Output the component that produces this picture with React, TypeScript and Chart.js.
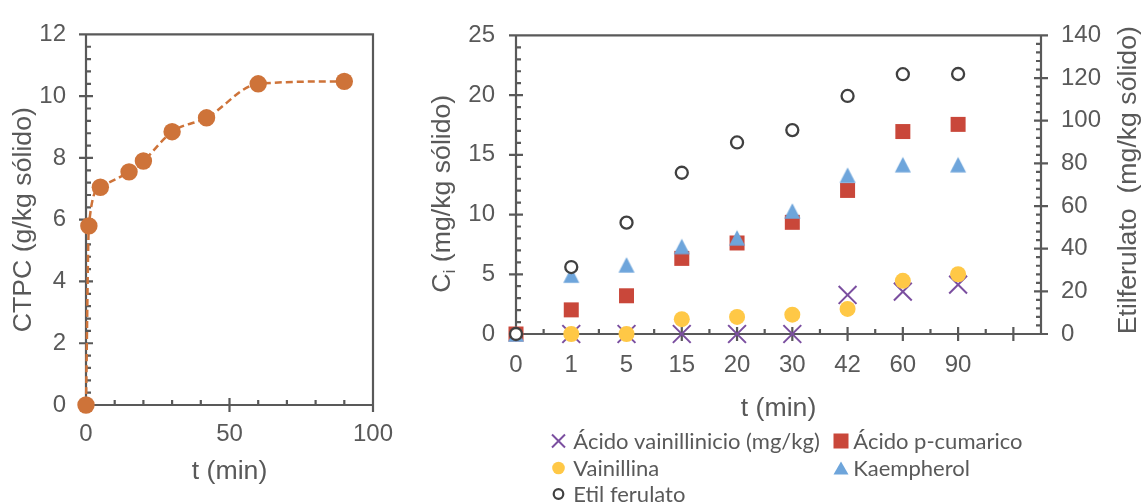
import React, { useEffect, useRef } from 'react';
import { Chart, registerables } from 'chart.js';

Chart.register(...registerables);

// ---------------- Data ----------------
const ctpcTime = [0, 1, 5, 15, 20, 30, 42, 60, 90];
const ctpcValues = [0, 5.8, 7.05, 7.55, 7.9, 8.85, 9.3, 10.4, 10.48];
const ctpcXTicks = [0, 50, 100];
const ctpcYTicks = [0, 2, 4, 6, 8, 10, 12];

const timeCategories = ['0', '1', '5', '15', '20', '30', '42', '60', '90'];
const acidoVainillinico = [null, 0, 0, 0, 0, 0, 3.27, 3.55, 4.13];
const acidoPCumarico = [0, 2.02, 3.2, 6.33, 7.62, 9.35, 12.02, 16.95, 17.55];
const vainillina = [null, 0, 0, 1.24, 1.43, 1.62, 2.1, 4.45, 5.0];
const kaempherol = [0, 4.93, 5.79, 7.33, 8.05, 10.3, 13.3, 14.18, 14.18];
const etilFerulato = [0, 31.4, 52.2, 75.6, 89.8, 95.6, 111.6, 121.8, 121.9];
const ciTicks = [0, 5, 10, 15, 20, 25];
const etilTicks = [0, 20, 40, 60, 80, 100, 120, 140];

const seriesNames = [
  'Ácido vainillinicio (mg/kg)',
  'Ácido p-cumarico',
  'Vainillina',
  'Kaempherol',
  'Etil ferulato',
];

// ---------------- Styles ----------------
const AXIS_COLOR = '#595959';
const TEXT_COLOR = '#595959';
const SANS = "'Liberation Sans', Arial, sans-serif";
const TICK_FONT = { family: SANS, size: 24 };
const TITLE_FONT = { family: SANS, size: 26.67 };
const LEGEND_FONT = "22px Lato, 'Open Sans', sans-serif";

const C_ORANGE = '#CE7339';
const C_PURPLE = '#7B4FA0';
const C_RED = '#C9473A';
const C_YELLOW = '#FFC846';
const C_BLUE = '#6EA5DB';
const C_DARK = '#404040';

type Spec = {
  scaleId: string;
  min: number;
  max: number;
  majorStep: number;
  minorStep: number;
  side: 'left' | 'right' | 'bottom';
};

function axisPlugin(specs: Spec[]) {
  return {
    id: 'axisFrame',
    beforeDatasetsDraw(chart: any) {
      const { ctx, chartArea: a } = chart;
      ctx.save();
      ctx.strokeStyle = AXIS_COLOR;
      ctx.lineWidth = 2.2;
      ctx.beginPath();
      ctx.moveTo(a.left, a.top);
      ctx.lineTo(a.right, a.top);
      ctx.lineTo(a.right, a.bottom);
      ctx.lineTo(a.left, a.bottom);
      ctx.closePath();
      for (const s of specs) {
        const scale = chart.scales[s.scaleId];
        const n = Math.round((s.max - s.min) / s.minorStep);
        const ratio = Math.round(s.majorStep / s.minorStep);
        for (let k = 0; k <= n; k++) {
          const v = s.min + k * s.minorStep;
          const p = scale.getPixelForValue(v);
          const major = k % ratio === 0;
          const out = major ? 7 : 0;
          const inn = major ? 7 : 5;
          if (s.side === 'bottom') {
            ctx.moveTo(p, a.bottom + out);
            ctx.lineTo(p, a.bottom - inn);
          } else if (s.side === 'left') {
            ctx.moveTo(a.left - out, p);
            ctx.lineTo(a.left + inn, p);
          } else {
            ctx.moveTo(a.right + out, p);
            ctx.lineTo(a.right - inn, p);
          }
        }
      }
      ctx.stroke();
      ctx.restore();
    },
  };
}

const rightTitlesPlugin = {
  id: 'rightTitles',
  afterDraw(chart: any) {
    const { ctx, chartArea: a } = chart;
    const midY = (a.top + a.bottom) / 2;
    ctx.save();
    ctx.fillStyle = TEXT_COLOR;
    ctx.textBaseline = 'middle';
    ctx.textAlign = 'left';
    // left title: C_i (mg/kg sólido)
    const big = `${TITLE_FONT.size}px ${SANS}`;
    const small = `${TITLE_FONT.size * 0.65}px ${SANS}`;
    ctx.font = big;
    const w1 = ctx.measureText('C').width;
    const w3 = ctx.measureText(' (mg/kg sólido)').width;
    ctx.font = small;
    const w2 = ctx.measureText('i').width;
    const total = w1 + w2 + w3;
    ctx.save();
    ctx.translate(a.left - 73, midY + 9);
    ctx.rotate(-Math.PI / 2);
    let x = -total / 2;
    ctx.font = big;
    ctx.fillText('C', x, 0);
    x += w1;
    ctx.font = small;
    ctx.fillText('i', x, 7);
    x += w2;
    ctx.font = big;
    ctx.fillText(' (mg/kg sólido)', x, 0);
    ctx.restore();
    // right title
    ctx.save();
    ctx.translate(a.right + 88, midY - 4.5);
    ctx.rotate(-Math.PI / 2);
    ctx.font = big;
    ctx.textAlign = 'center';
    ctx.fillText('Etilferulato  (mg/kg sólido)', 0, 0);
    ctx.restore();
    ctx.restore();
  },
};

function drawMarker(ctx: CanvasRenderingContext2D, kind: string, x: number, y: number) {
  ctx.save();
  ctx.beginPath();
  if (kind === 'x') {
    ctx.strokeStyle = C_PURPLE;
    ctx.lineWidth = 2;
    ctx.moveTo(x - 6.5, y - 6.5);
    ctx.lineTo(x + 6.5, y + 6.5);
    ctx.moveTo(x + 6.5, y - 6.5);
    ctx.lineTo(x - 6.5, y + 6.5);
    ctx.stroke();
  } else if (kind === 'square') {
    ctx.fillStyle = C_RED;
    ctx.fillRect(x - 7.5, y - 7.5, 15, 15);
  } else if (kind === 'circle') {
    ctx.fillStyle = C_YELLOW;
    ctx.arc(x, y, 6.3, 0, Math.PI * 2);
    ctx.fill();
  } else if (kind === 'triangle') {
    ctx.fillStyle = C_BLUE;
    ctx.moveTo(x, y - 6.5);
    ctx.lineTo(x + 7.5, y + 6.5);
    ctx.lineTo(x - 7.5, y + 6.5);
    ctx.closePath();
    ctx.fill();
  } else {
    ctx.strokeStyle = C_DARK;
    ctx.lineWidth = 2.2;
    ctx.arc(x, y, 4.8, 0, Math.PI * 2);
    ctx.stroke();
  }
  ctx.restore();
}

const legendLayout = [
  { kind: 'x', col: 0, row: 0 },
  { kind: 'square', col: 1, row: 0 },
  { kind: 'circle', col: 0, row: 1 },
  { kind: 'triangle', col: 1, row: 1 },
  { kind: 'open', col: 0, row: 2 },
];

const legendPlugin = {
  id: 'customLegend',
  afterDraw(chart: any) {
    const { ctx, chartArea: a } = chart;
    const markerX = [a.left + 42.5, a.left + 325];
    const textX = [a.left + 57.3, a.left + 337.3];
    const rowY = [a.bottom + 107, a.bottom + 134, a.bottom + 160];
    ctx.save();
    ctx.font = LEGEND_FONT;
    ctx.fillStyle = TEXT_COLOR;
    ctx.textAlign = 'left';
    ctx.textBaseline = 'middle';
    legendLayout.forEach((it, i) => {
      drawMarker(ctx, it.kind, markerX[it.col], rowY[it.row]);
      ctx.fillStyle = TEXT_COLOR;
      ctx.fillText(seriesNames[i], textX[it.col], rowY[it.row] + 1);
    });
    ctx.restore();
  },
};

function makeTriangle(w: number, h: number, color: string) {
  const c = document.createElement('canvas');
  c.width = Math.ceil(w) + 2;
  c.height = Math.ceil(h) + 2;
  const g = c.getContext('2d')!;
  g.fillStyle = color;
  g.beginPath();
  g.moveTo(c.width / 2, (c.height - h) / 2);
  g.lineTo(c.width / 2 + w / 2, (c.height + h) / 2);
  g.lineTo(c.width / 2 - w / 2, (c.height + h) / 2);
  g.closePath();
  g.fill();
  return c;
}

const toPoints = (vals: (number | null)[]) => vals.map((v, i) => ({ x: i, y: v }));

export default function App() {
  const leftRef = useRef<HTMLCanvasElement>(null);
  const rightRef = useRef<HTMLCanvasElement>(null);

  useEffect(() => {
    const noGrid = { display: false, drawTicks: false };
    const noBorder = { display: false };

    const left = new Chart(leftRef.current!, {
      type: 'line',
      data: {
        datasets: [
          {
            label: 'CTPC',
            data: ctpcTime.map((t, i) => ({ x: t, y: ctpcValues[i] })),
            borderColor: C_ORANGE,
            borderWidth: 2.5,
            borderDash: [7, 4],
            cubicInterpolationMode: 'monotone',
            pointRadius: 8.7,
            pointBackgroundColor: C_ORANGE,
            pointBorderWidth: 0,
            clip: false as any,
          } as any,
        ],
      },
      options: {
        animation: false,
        responsive: false,
        events: [],
        layout: { padding: { top: 29, right: 47, left: 0, bottom: 0 } },
        plugins: { legend: { display: false }, tooltip: { enabled: false } },
        scales: {
          x: {
            type: 'linear',
            min: 0,
            max: 100,
            afterBuildTicks: (s: any) => {
              s.ticks = ctpcXTicks.map((v) => ({ value: v }));
            },
            afterFit: (s: any) => {
              s.height = 98;
            },
            grid: noGrid,
            border: noBorder,
            ticks: { font: TICK_FONT, color: TEXT_COLOR, padding: 15, maxRotation: 0, autoSkip: false },
            title: { display: true, text: 't (min)', font: TITLE_FONT, color: TEXT_COLOR, padding: { top: 0, bottom: 15.5 } },
          },
          y: {
            type: 'linear',
            min: 0,
            max: 12,
            afterBuildTicks: (s: any) => {
              s.ticks = ctpcYTicks.map((v) => ({ value: v }));
            },
            afterFit: (s: any) => {
              s.width = 86;
            },
            grid: noGrid,
            border: noBorder,
            ticks: { font: TICK_FONT, color: TEXT_COLOR, padding: 20, autoSkip: false },
            title: { display: true, text: 'CTPC (g/kg sólido)', font: TITLE_FONT, color: TEXT_COLOR, padding: { top: 8, bottom: 0 } },
          },
        },
      } as any,
      plugins: [
        axisPlugin([
          { scaleId: 'x', min: 0, max: 100, majorStep: 50, minorStep: 10, side: 'bottom' },
          { scaleId: 'y', min: 0, max: 12, majorStep: 2, minorStep: 0.4, side: 'left' },
        ]),
      ],
    });

    const tri = makeTriangle(16, 15.5, C_BLUE);

    const right = new Chart(rightRef.current!, {
      type: 'scatter',
      data: {
        datasets: [
          {
            label: seriesNames[0],
            data: toPoints(acidoVainillinico),
            pointStyle: 'crossRot',
            pointRadius: 12.6,
            borderColor: C_PURPLE,
            pointBorderColor: C_PURPLE,
            pointBorderWidth: 2,
            yAxisID: 'y',
            order: 2,
            clip: false,
          },
          {
            label: seriesNames[1],
            data: toPoints(acidoPCumarico),
            pointStyle: 'rect',
            pointRadius: 10.6,
            pointBackgroundColor: C_RED,
            pointBorderWidth: 0,
            yAxisID: 'y',
            order: 4,
            clip: false,
          },
          {
            label: seriesNames[2],
            data: toPoints(vainillina),
            pointStyle: 'circle',
            pointRadius: 8,
            pointBackgroundColor: C_YELLOW,
            pointBorderWidth: 0,
            yAxisID: 'y',
            order: 1,
            clip: false,
          },
          {
            label: seriesNames[3],
            data: toPoints(kaempherol),
            pointStyle: tri,
            pointRadius: 8,
            yAxisID: 'y',
            order: 3,
            clip: false,
          },
          {
            label: seriesNames[4],
            data: toPoints(etilFerulato),
            pointStyle: 'circle',
            pointRadius: 6,
            pointBackgroundColor: '#FFFFFF',
            pointBorderColor: C_DARK,
            pointBorderWidth: 2.3,
            yAxisID: 'y2',
            order: 0,
            clip: false,
          },
        ] as any,
      },
      options: {
        animation: false,
        responsive: false,
        events: [],
        layout: { padding: { top: 25, right: 0, left: 0, bottom: 0 } },
        plugins: { legend: { display: false }, tooltip: { enabled: false } },
        scales: {
          x: {
            type: 'linear',
            min: 0,
            max: 9.5,
            afterBuildTicks: (s: any) => {
              s.ticks = timeCategories.map((_, i) => ({ value: i }));
            },
            afterFit: (s: any) => {
              s.height = 169;
            },
            grid: noGrid,
            border: noBorder,
            ticks: {
              font: TICK_FONT,
              color: TEXT_COLOR,
              padding: 17,
              maxRotation: 0,
              autoSkip: false,
              callback: (_v: any, i: number) => timeCategories[i] ?? '',
            },
            title: { display: true, text: 't (min)', font: TITLE_FONT, color: TEXT_COLOR, padding: { top: 0, bottom: 78.5 } },
          },
          y: {
            type: 'linear',
            position: 'left',
            min: 0,
            max: 25,
            afterBuildTicks: (s: any) => {
              s.ticks = ciTicks.map((v) => ({ value: v }));
            },
            afterFit: (s: any) => {
              s.width = 96;
            },
            grid: noGrid,
            border: noBorder,
            ticks: { font: TICK_FONT, color: TEXT_COLOR, padding: 21, autoSkip: false },
          },
          y2: {
            type: 'linear',
            position: 'right',
            min: 0,
            max: 140,
            afterBuildTicks: (s: any) => {
              s.ticks = etilTicks.map((v) => ({ value: v }));
            },
            afterFit: (s: any) => {
              s.width = 102;
            },
            grid: noGrid,
            border: noBorder,
            ticks: { font: TICK_FONT, color: TEXT_COLOR, padding: 20, autoSkip: false },
          },
        },
      } as any,
      plugins: [
        axisPlugin([
          { scaleId: 'x', min: 0, max: 9.5, majorStep: 1, minorStep: 0.5, side: 'bottom' },
          { scaleId: 'y', min: 0, max: 25, majorStep: 5, minorStep: 1, side: 'left' },
          { scaleId: 'y2', min: 0, max: 140, majorStep: 20, minorStep: 4, side: 'right' },
        ]),
        rightTitlesPlugin,
        legendPlugin,
      ],
    });

    return () => {
      left.destroy();
      right.destroy();
    };
  }, []);

  return (
    <div style={{ position: 'absolute', left: 0, top: 0, width: 1143, height: 503, background: '#ffffff' }}>
      <canvas ref={leftRef} width={420} height={503} style={{ position: 'absolute', left: 0, top: 0 }} />
      <canvas ref={rightRef} width={723} height={503} style={{ position: 'absolute', left: 420, top: 0 }} />
    </div>
  );
}
